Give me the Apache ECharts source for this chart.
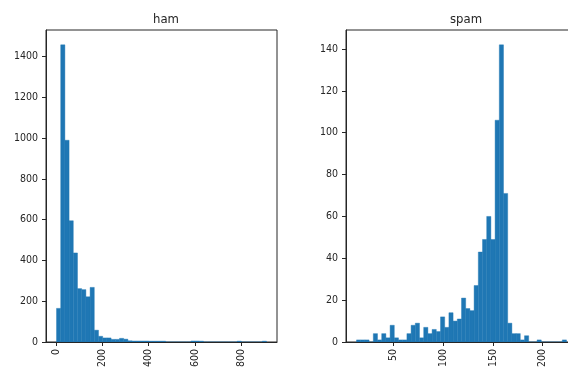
<!DOCTYPE html>
<html>
<head>
<meta charset="utf-8">
<script src="https://cdn.jsdelivr.net/npm/echarts@6/dist/echarts.min.js"></script>
<style>
  html, body { margin: 0; padding: 0; background: #fff; }
  #chart { width: 568px; height: 371px; }
</style>
</head>
<body>
<div id="chart"></div>
<script>
// histogram of message lengths, 50 bins each
var hamMin = 2, hamMax = 910;
var hamCounts = [165, 1458, 990, 595, 437, 262, 257, 222, 268, 58,
                 28, 20, 20, 13, 13, 18, 14, 6, 5, 5,
                 5, 5, 4, 4, 4, 4, 0, 0, 0, 0,
                 0, 0, 5, 5, 4, 0, 0, 0, 0, 0,
                 0, 0, 0, 4, 0, 0, 0, 0, 0, 4];
var hamTicks = [0, 200, 400, 600, 800];
var hamYTicks = [0, 200, 400, 600, 800, 1000, 1200, 1400];

var spamMin = 13, spamMax = 224;
var spamCounts = [1, 1, 1, 0, 4, 1, 4, 2, 8, 2,
                  1, 1, 4, 8, 9, 2, 7, 4, 6, 5,
                  12, 7, 14, 10, 11, 21, 16, 15, 27, 43,
                  49, 60, 49, 106, 142, 71, 9, 4, 4, 1,
                  3, 0, 0, 1, 0, 0, 0, 0, 0, 1];
var spamTicks = [50, 100, 150, 200];
var spamYTicks = [0, 20, 40, 60, 80, 100, 120, 140];

var FONT = '"DejaVu Sans Condensed", "DejaVu Sans", sans-serif';
var INK = '#262626';
var BAR = '#1f77b4';

// turn counts into [start, end, count] rows
function bins(lo, hi, counts) {
  var w = (hi - lo) / counts.length;
  return counts.map(function (c, i) {
    return [lo + i * w, lo + (i + 1) * w, c];
  });
}

function histItem(params, api) {
  var p0 = api.coord([api.value(0), 0]);
  var p1 = api.coord([api.value(1), api.value(2)]);
  return {
    type: 'rect',
    shape: { x: p0[0], y: p1[1], width: p1[0] - p0[0], height: p0[1] - p1[1] },
    style: { fill: BAR, stroke: BAR, lineWidth: 0.4 }
  };
}

function plain(v) { return String(v); }

function xAxisOf(idx, lo, hi, ticks) {
  var pad = (hi - lo) * 0.05;
  return {
    type: 'value', gridIndex: idx,
    min: lo - pad, max: hi + pad,
    splitLine: { show: false },
    axisLine: { onZero: false, lineStyle: { color: INK, width: 1 } },
    axisTick: { inside: false, length: 4, lineStyle: { color: INK }, customValues: ticks },
    axisLabel: { rotate: 90, margin: 7, color: INK, fontSize: 10.5, fontFamily: FONT,
                 formatter: plain, customValues: ticks }
  };
}

function yAxisOf(idx, maxCount, ticks) {
  return {
    type: 'value', gridIndex: idx,
    min: 0, max: maxCount * 1.05,
    splitLine: { show: false },
    axisLine: { show: true, onZero: false, lineStyle: { color: INK, width: 1 } },
    axisTick: { show: true, length: 4, lineStyle: { color: INK }, customValues: ticks },
    axisLabel: { margin: 8, color: INK, fontSize: 10.5, fontFamily: FONT,
                 formatter: plain, customValues: ticks }
  };
}

var chart = echarts.init(document.getElementById('chart'));
var option = {
  animation: false,
  title: [
    { text: 'ham', left: 161, top: 8, textAlign: 'center',
      textStyle: { fontSize: 13, fontWeight: 'normal', color: INK, fontFamily: FONT } },
    { text: 'spam', left: 461, top: 8, textAlign: 'center',
      textStyle: { fontSize: 13, fontWeight: 'normal', color: INK, fontFamily: FONT } }
  ],
  grid: [
    { left: 46, top: 30, width: 231, height: 312, outerBoundsMode: 'none',
      show: true, borderColor: INK, borderWidth: 1, backgroundColor: 'transparent' },
    { left: 346, top: 30, width: 231, height: 312, outerBoundsMode: 'none',
      show: true, borderColor: INK, borderWidth: 1, backgroundColor: 'transparent' }
  ],
  xAxis: [
    xAxisOf(0, hamMin, hamMax, hamTicks),
    xAxisOf(1, spamMin, spamMax, spamTicks)
  ],
  yAxis: [
    yAxisOf(0, Math.max.apply(null, hamCounts), hamYTicks),
    yAxisOf(1, Math.max.apply(null, spamCounts), spamYTicks)
  ],
  series: [
    { type: 'custom', name: 'ham', xAxisIndex: 0, yAxisIndex: 0, clip: true,
      renderItem: histItem, encode: { x: [0, 1], y: 2 },
      data: bins(hamMin, hamMax, hamCounts) },
    { type: 'custom', name: 'spam', xAxisIndex: 1, yAxisIndex: 1, clip: true,
      renderItem: histItem, encode: { x: [0, 1], y: 2 },
      data: bins(spamMin, spamMax, spamCounts) }
  ]
};
chart.setOption(option);
</script>
</body>
</html>
